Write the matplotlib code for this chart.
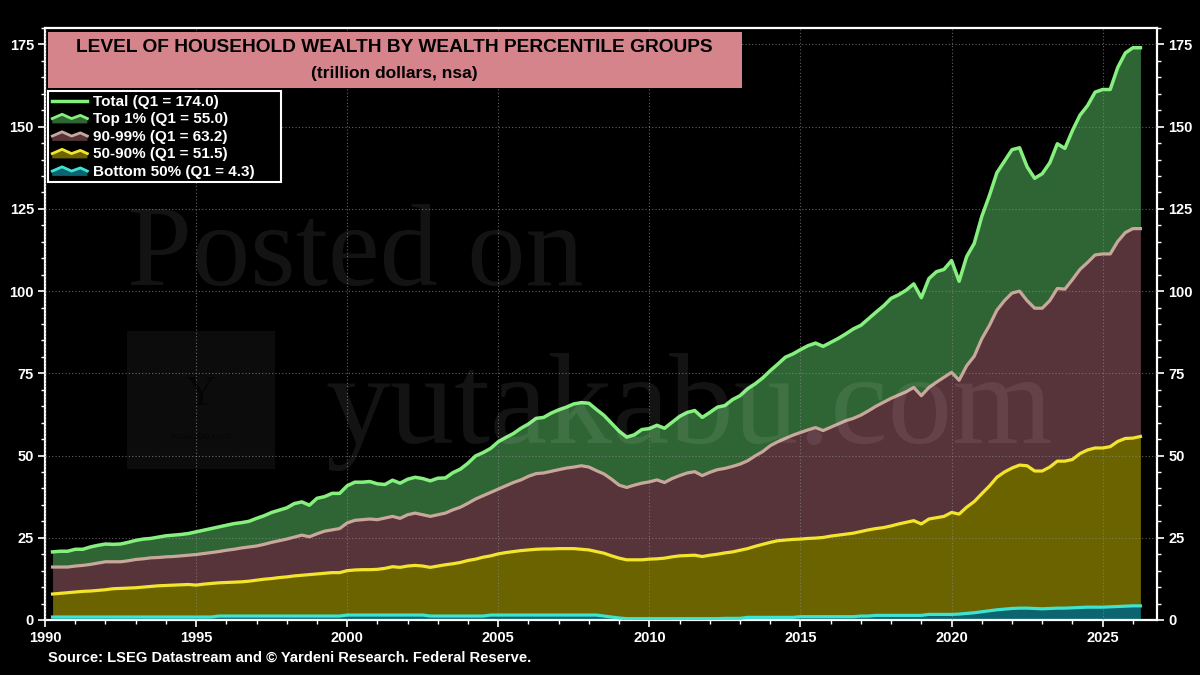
import numpy as np
import matplotlib
matplotlib.use('Agg')
import matplotlib.pyplot as plt
from matplotlib.patches import Rectangle, Patch, Polygon
from matplotlib.lines import Line2D
from matplotlib.legend_handler import HandlerBase
from matplotlib.ticker import MultipleLocator

plt.rcParams['font.family'] = ['Liberation Sans', 'DejaVu Sans']

# quarterly, Q1 1990 .. Q1 2026 (levels of the stacked boundaries, trillion $)
start_year = 1990
total = [20.7, 20.9, 20.9, 21.5, 21.5, 22.2, 22.7, 23.1, 23.0, 23.1, 23.6, 24.2,
         24.6, 24.8, 25.2, 25.6, 25.8, 26.0, 26.3, 26.8, 27.3, 27.8, 28.3, 28.8,
         29.3, 29.6, 30.0, 30.9, 31.7, 32.7, 33.4, 34.1, 35.4, 35.9, 34.9, 37.0,
         37.5, 38.5, 38.5, 40.8, 41.9, 41.9, 42.1, 41.4, 41.2, 42.5, 41.6, 42.8,
         43.4, 43.0, 42.3, 43.1, 43.2, 44.8, 45.9, 47.7, 49.9, 50.9, 52.2, 54.2,
         55.5, 56.7, 58.3, 59.6, 61.3, 61.6, 62.9, 63.9, 64.7, 65.7, 66.1, 65.9,
         64.0, 62.2, 59.8, 57.4, 55.6, 56.3, 57.9, 58.2, 59.2, 58.3, 60.1, 61.9,
         63.1, 63.7, 61.6, 63.1, 64.7, 65.2, 67.0, 68.2, 70.3, 71.8, 73.6, 75.8,
         77.8, 79.9, 80.9, 82.2, 83.4, 84.2, 83.2, 84.4, 85.6, 87.0, 88.5, 89.6,
         91.6, 93.6, 95.5, 97.8, 98.9, 100.3, 102.2, 98.0, 103.8, 105.9, 106.6, 109.3,
         103.0, 110.5, 114.5, 122.7, 129.0, 136.0, 139.5, 143.0, 143.6, 137.8, 134.3, 135.7,
         139.0, 144.8, 143.4, 148.8, 153.5, 156.4, 160.5, 161.3, 161.3, 168.0, 172.4, 174.0,
         174.0]
upto_p99 = [16.1, 16.1, 16.1, 16.4, 16.6, 16.9, 17.3, 17.7, 17.7, 17.7, 18.0, 18.4,
            18.6, 18.9, 19.0, 19.2, 19.3, 19.5, 19.7, 19.9, 20.2, 20.5, 20.8, 21.2,
            21.5, 21.9, 22.2, 22.5, 23.0, 23.6, 24.1, 24.6, 25.2, 25.8, 25.3, 26.2,
            27.0, 27.4, 27.8, 29.5, 30.3, 30.5, 30.7, 30.5, 31.0, 31.5, 30.9, 32.0,
            32.5, 32.0, 31.5, 32.0, 32.5, 33.5, 34.3, 35.5, 36.8, 37.8, 38.8, 39.8,
            40.8, 41.8, 42.6, 43.7, 44.5, 44.7, 45.2, 45.7, 46.2, 46.5, 46.9, 46.5,
            45.4, 44.4, 42.8, 41.0, 40.3, 41.0, 41.6, 42.0, 42.6, 41.8, 43.0, 43.9,
            44.7, 45.1, 43.9, 44.9, 45.7, 46.1, 46.7, 47.4, 48.4, 49.9, 51.2, 53.0,
            54.2, 55.2, 56.2, 57.0, 57.8, 58.5, 57.6, 58.6, 59.6, 60.6, 61.3, 62.3,
            63.6, 65.0, 66.2, 67.4, 68.4, 69.4, 70.7, 68.2, 70.7, 72.3, 73.8, 75.3,
            72.9, 77.3, 80.2, 85.5, 89.5, 94.2, 97.1, 99.4, 100.0, 97.1, 94.8, 94.8,
            97.1, 100.8, 100.6, 103.5, 106.6, 108.7, 111.0, 111.3, 111.3, 115.1, 117.8, 119.0,
            119.0]
upto_p90 = [7.9, 8.1, 8.3, 8.5, 8.7, 8.8, 9.0, 9.2, 9.5, 9.6, 9.7, 9.8,
            10.0, 10.2, 10.4, 10.5, 10.6, 10.7, 10.8, 10.6, 10.9, 11.1, 11.3, 11.4,
            11.5, 11.6, 11.8, 12.1, 12.4, 12.6, 12.9, 13.1, 13.4, 13.6, 13.8, 14.0,
            14.2, 14.4, 14.4, 15.0, 15.2, 15.3, 15.3, 15.4, 15.7, 16.2, 16.0, 16.4,
            16.6, 16.4, 16.0, 16.4, 16.8, 17.1, 17.5, 18.1, 18.5, 19.1, 19.5, 20.1,
            20.5, 20.8, 21.1, 21.3, 21.5, 21.6, 21.6, 21.7, 21.7, 21.7, 21.5, 21.3,
            20.8, 20.3, 19.5, 18.8, 18.3, 18.3, 18.3, 18.5, 18.6, 18.8, 19.2, 19.5,
            19.6, 19.7, 19.3, 19.7, 20.0, 20.4, 20.7, 21.2, 21.7, 22.4, 23.0, 23.6,
            24.1, 24.3, 24.5, 24.6, 24.8, 24.9, 25.1, 25.5, 25.8, 26.1, 26.4, 26.9,
            27.4, 27.8, 28.1, 28.6, 29.2, 29.7, 30.2, 29.2, 30.7, 31.1, 31.5, 32.7,
            32.2, 34.3, 36.0, 38.4, 40.7, 43.4, 45.0, 46.2, 47.1, 46.9, 45.3, 45.3,
            46.5, 48.3, 48.3, 48.8, 50.6, 51.7, 52.3, 52.3, 52.7, 54.3, 55.2, 55.3,
            55.8]
bottom50 = [0.9, 0.9, 0.9, 0.9, 0.9, 0.9, 0.9, 0.9, 0.9, 0.9, 0.9, 0.9,
            0.9, 0.9, 0.9, 0.9, 0.9, 0.9, 0.9, 0.9, 0.9, 0.9, 1.2, 1.2,
            1.2, 1.2, 1.2, 1.2, 1.2, 1.2, 1.2, 1.2, 1.2, 1.2, 1.2, 1.2,
            1.2, 1.2, 1.2, 1.5, 1.5, 1.5, 1.5, 1.5, 1.5, 1.5, 1.5, 1.5,
            1.5, 1.5, 1.2, 1.2, 1.2, 1.2, 1.2, 1.2, 1.2, 1.2, 1.5, 1.5,
            1.5, 1.5, 1.5, 1.5, 1.5, 1.5, 1.5, 1.5, 1.5, 1.5, 1.5, 1.5,
            1.5, 1.2, 0.9, 0.6, 0.4, 0.4, 0.4, 0.4, 0.4, 0.4, 0.4, 0.4,
            0.4, 0.4, 0.4, 0.4, 0.4, 0.5, 0.5, 0.5, 0.8, 0.8, 0.8, 0.8,
            0.8, 0.8, 0.8, 1.0, 1.0, 1.0, 1.0, 1.0, 1.0, 1.0, 1.0, 1.2,
            1.2, 1.4, 1.4, 1.4, 1.4, 1.4, 1.4, 1.4, 1.7, 1.7, 1.7, 1.7,
            1.8, 2.0, 2.2, 2.5, 2.8, 3.1, 3.3, 3.5, 3.6, 3.6, 3.5, 3.4,
            3.5, 3.6, 3.6, 3.7, 3.8, 3.9, 3.9, 3.9, 4.0, 4.1, 4.2, 4.3,
            4.3]
legend_labels = ['Total (Q1 = 174.0)', 'Top 1% (Q1 = 55.0)', '90-99% (Q1 = 63.2)',
                 '50-90% (Q1 = 51.5)', 'Bottom 50% (Q1 = 4.3)']

t = start_year + 0.25 * (np.arange(len(total)) + 1)

# fill colour, line colour
c_top = ('#2f6535', '#86f07f')
c_p99 = ('#57333a', '#c9a89c')
c_p90 = ('#6a6300', '#f2e52c')
c_b50 = ('#0b6470', '#3fe3cf')

fig = plt.figure(figsize=(12, 6.75), dpi=100, facecolor='black')
ax = fig.add_axes([0.0375, 0.0815, 0.9267, 0.877], facecolor='black')

ax.fill_between(t, upto_p99, total, color=c_top[0], lw=0, zorder=1)
ax.fill_between(t, upto_p90, upto_p99, color=c_p99[0], lw=0, zorder=1)
ax.fill_between(t, bottom50, upto_p90, color=c_p90[0], lw=0, zorder=1)
ax.fill_between(t, 0, bottom50, color=c_b50[0], lw=0, zorder=1)
ax.plot(t, bottom50, color=c_b50[1], lw=2.3, zorder=3)
ax.plot(t, upto_p90, color=c_p90[1], lw=2.3, zorder=3)
ax.plot(t, upto_p99, color=c_p99[1], lw=2.3, zorder=3)
ax.plot(t, total, color=c_top[1], lw=2.5, zorder=3)

ax.set_xlim(1990, 2026.8)
ax.set_ylim(0, 180)
ax.xaxis.set_major_locator(MultipleLocator(5))
ax.xaxis.set_minor_locator(MultipleLocator(1))
ax.yaxis.set_major_locator(MultipleLocator(25))
ax.yaxis.set_minor_locator(MultipleLocator(5))
ax.set_axisbelow(False)
ax.grid(True, which='major', color='#8a8a8a', ls=(0, (1, 2)), lw=0.8, alpha=0.7)
for s in ax.spines.values():
    s.set_color('white')
    s.set_linewidth(1.6)
ax.tick_params(which='both', colors='white', direction='out', right=True, labelright=True)
ax.tick_params(which='major', length=5, width=1.2, labelsize=10.5, pad=3)
ax.tick_params(which='minor', length=3, width=1)
for lab in ax.get_xticklabels() + ax.get_yticklabels():
    lab.set_fontweight('bold')

# watermark
wm = dict(color='white', alpha=0.08, family='Liberation Serif', zorder=5)
fig.text(0.106, 0.578, 'Posted on', fontsize=84, **wm)
fig.text(0.271, 0.343, 'yutakabu.com', fontsize=93, **wm)
fig.patches.append(Rectangle((0.106, 0.305), 0.123, 0.205, transform=fig.transFigure,
                             facecolor='white', alpha=0.05, zorder=5))
fig.text(0.1675, 0.40, 'Y', fontsize=30, ha='center', color='black', alpha=0.5,
         family='Liberation Serif', zorder=6)
fig.text(0.1675, 0.35, 'yutakabu.com', fontsize=8, ha='center', color='black', alpha=0.5,
         family='Liberation Serif', zorder=6)

# title box
fig.patches.append(Rectangle((0.04, 0.8696), 0.578, 0.083, transform=fig.transFigure,
                             facecolor='#d5848c', edgecolor='none', zorder=10))
fig.text(0.329, 0.930, 'LEVEL OF HOUSEHOLD WEALTH BY WEALTH PERCENTILE GROUPS', ha='center',
         va='center', fontsize=13.8, fontweight='bold', color='black', zorder=11)
fig.text(0.329, 0.891, '(trillion dollars, nsa)', ha='center', va='center', fontsize=12.5,
         fontweight='bold', color='black', zorder=11)


class AreaHandler(HandlerBase):
    def create_artists(self, legend, orig_handle, xdescent, ydescent, width, height,
                       fontsize, trans):
        xs = np.array([0, 0.28, 0.55, 0.8, 1.0]) * width - xdescent
        ys = np.array([0.45, 0.85, 0.45, 0.75, 0.45]) * height - ydescent
        pts = list(zip(xs, ys)) + [(xs[-1], -ydescent), (xs[0], -ydescent)]
        poly = Polygon(pts, closed=True, facecolor=orig_handle.get_facecolor(),
                       edgecolor='none', transform=trans)
        ln = Line2D(xs, ys, color=orig_handle.get_edgecolor(), lw=2, transform=trans)
        return [poly, ln]


# legend box (drawn separately to get the wider frame)
fig.patches.append(Rectangle((0.04, 0.7304), 0.1942, 0.1348, transform=fig.transFigure,
                             facecolor='black', edgecolor='white', lw=1.5, zorder=11))
handles = [Line2D([0], [0], color=c_top[1], lw=2.5),
           Patch(facecolor=c_top[0], edgecolor=c_top[1]),
           Patch(facecolor=c_p99[0], edgecolor=c_p99[1]),
           Patch(facecolor=c_p90[0], edgecolor=c_p90[1]),
           Patch(facecolor=c_b50[0], edgecolor=c_b50[1])]
leg = fig.legend(handles, legend_labels, loc='upper left', bbox_to_anchor=(0.041, 0.864),
                 handler_map={Patch: AreaHandler()}, fontsize=11, frameon=False,
                 handlelength=2.3, handletextpad=0.35, labelspacing=0.23,
                 borderpad=0.2, borderaxespad=0)
leg.set_zorder(12)
for txt in leg.get_texts():
    txt.set_color('white')
    txt.set_fontweight('bold')

fig.text(0.04, 0.019, 'Source: LSEG Datastream and \u00a9 Yardeni Research. Federal Reserve.',
         fontsize=10.6, fontweight='bold', color='white')

fig.savefig('out.png', dpi=100, facecolor='black')
